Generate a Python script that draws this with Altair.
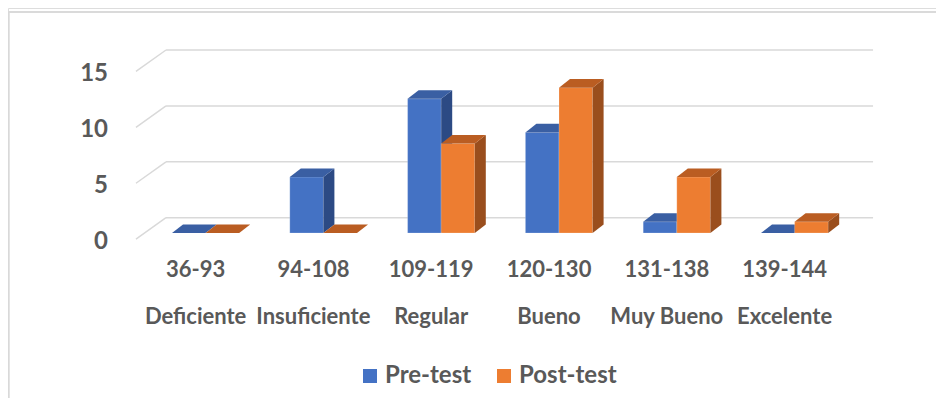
import altair as alt
import pandas as pd

# ---- data ----
ranges = ["36-93", "94-108", "109-119", "120-130", "131-138", "139-144"]
levels = ["Deficiente", "Insuficiente", "Regular", "Bueno", "Muy Bueno", "Excelente"]
pre_test = [0, 5, 12, 9, 1, 0]
post_test = [0, 0, 8, 13, 5, 1]
series_names = ["Pre-test", "Post-test"]
y_ticks = [0, 5, 10, 15]

# ---- style ----
FRONT = {"Pre-test": "#4472C4", "Post-test": "#ED7D31"}
TOP = {"Pre-test": "#3A5FA3", "Post-test": "#BA5D22"}
SIDE = {"Pre-test": "#2C4A84", "Post-test": "#9A4E1D"}
TXT = "#595959"
GRID = "#D9D9D9"
FONT = "Lato"

W, H = 928, 390
BW = 0.2852          # bar width (category units)
DDX, DDY = 0.0934, 0.769   # bar depth offsets
XDOM = [-1.6774, 6.2003]
YDOM = [-14.758, 20.125]
BACK_DY = 1.369
BACK_X0, BACK_X1 = -0.336, 5.666
FRONT_X, FRONT_DY = -0.591, -0.55

xs = alt.Scale(domain=XDOM, nice=False, zero=False)
ys = alt.Scale(domain=YDOM, nice=False, zero=False)
noax = dict(axis=None)

# ---- tables ----
fronts, faces = [], []
for s_i, (sname, vals) in enumerate(zip(series_names, [pre_test, post_test])):
    for i, v in enumerate(vals):
        xl = i - BW if s_i == 0 else i
        xr = xl + BW
        fronts.append(dict(series=sname, xl=xl, xr=xr, y0=0, y1=v))
        # side face
        faces += [dict(series=sname, face="side", bid=f"s{s_i}-{i}", px=xr, lo=0, hi=v),
                  dict(series=sname, face="side", bid=f"s{s_i}-{i}", px=xr + DDX, lo=DDY, hi=v + DDY)]
        # top face
        faces += [dict(series=sname, face="top", bid=f"t{s_i}-{i}", px=xl, lo=v, hi=v),
                  dict(series=sname, face="top", bid=f"t{s_i}-{i}", px=xl + DDX, lo=v, hi=v + DDY),
                  dict(series=sname, face="top", bid=f"t{s_i}-{i}", px=xr, lo=v, hi=v + DDY),
                  dict(series=sname, face="top", bid=f"t{s_i}-{i}", px=xr + DDX, lo=v + DDY, hi=v + DDY)]
fronts = pd.DataFrame(fronts)
faces = pd.DataFrame(faces)

grid_h = pd.DataFrame([dict(x=BACK_X0, x2=BACK_X1, y=t + BACK_DY, y2=t + BACK_DY) for t in y_ticks])
grid_d = pd.DataFrame([dict(x=FRONT_X, x2=BACK_X0, y=t + FRONT_DY, y2=t + BACK_DY) for t in y_ticks])
ylab = pd.DataFrame([dict(x=-0.8285, y=t - 0.78, t=str(t)) for t in y_ticks])
cats = pd.DataFrame(dict(x=list(range(len(ranges))), r=ranges, l=levels))

# ---- layers ----
gh = alt.Chart(grid_h).mark_rule(color=GRID, strokeWidth=1.5).encode(
    x=alt.X("x:Q", scale=xs, **noax), x2="x2:Q",
    y=alt.Y("y:Q", scale=ys, **noax), y2="y2:Q")
gd = alt.Chart(grid_d).mark_rule(color=GRID, strokeWidth=1.5).encode(
    x=alt.X("x:Q", scale=xs, **noax), x2="x2:Q",
    y=alt.Y("y:Q", scale=ys, **noax), y2="y2:Q")

yl = alt.Chart(ylab).mark_text(align="right", baseline="middle", font=FONT,
                               fontSize=24, fontWeight="bold", color=TXT).encode(
    x=alt.X("x:Q", scale=xs, **noax), y=alt.Y("y:Q", scale=ys, **noax), text="t:N")

color_enc = alt.Color("series:N",
                      scale=alt.Scale(domain=series_names, range=[FRONT[s] for s in series_names]),
                      legend=alt.Legend(title=None, orient="none", direction="horizontal",
                                        legendX=350, legendY=356, symbolType="square",
                                        symbolSize=196, symbolStrokeWidth=0, labelFont=FONT,
                                        labelFontSize=24, labelFontWeight="bold",
                                        labelColor=TXT, labelOffset=3, columnPadding=20,
                                        padding=0))

layers = [gh, gd, yl]
for sname in series_names:
    f = alt.Chart(fronts).transform_filter(alt.datum.series == sname).mark_rect(
        stroke="#FFFFFF", strokeOpacity=0.35, strokeWidth=0.6).encode(
        x=alt.X("xl:Q", scale=xs, **noax), x2="xr:Q",
        y=alt.Y("y0:Q", scale=ys, **noax), y2="y1:Q", color=color_enc)
    layers.append(f)
    for face, cmap in (("side", SIDE), ("top", TOP)):
        a = alt.Chart(faces).transform_filter(
            (alt.datum.series == sname) & (alt.datum.face == face)
        ).mark_area(fill=cmap[sname], fillOpacity=1, stroke=None).encode(
            x=alt.X("px:Q", scale=xs, **noax),
            y=alt.Y("lo:Q", scale=ys, stack=None, **noax),
            y2=alt.Y2("hi:Q"),
            detail=alt.Detail("bid:N"))
        layers.append(a)

r1 = alt.Chart(cats).mark_text(font=FONT, fontSize=22, fontWeight="bold", color=TXT,
                               baseline="middle", dx=-10).encode(
    x=alt.X("x:Q", scale=xs, **noax), y=alt.value(262), text="r:N")
r2 = alt.Chart(cats).mark_text(font=FONT, fontSize=22, fontWeight="bold", color=TXT,
                               baseline="middle", dx=-10).encode(
    x=alt.X("x:Q", scale=xs, **noax), y=alt.value(309), text="l:N")

frame_l = alt.Chart(cats).mark_rule(color=GRID, strokeWidth=1.2).encode(
    x=alt.value(0.6), y=alt.value(4), y2=alt.value(H))
frame_t = alt.Chart(cats).mark_rule(color=GRID, strokeWidth=1.2).encode(
    x=alt.value(0), x2=alt.value(W), y=alt.value(4))

layers += [r1, r2, frame_l, frame_t]

chart = alt.layer(*layers).properties(
    width=W, height=H, padding=0, autosize=alt.AutoSizeParams(type="none")
).configure_view(stroke=None).configure(background="white")

chart.save("out.html", embed_options={"renderer": "svg", "actions": False})
